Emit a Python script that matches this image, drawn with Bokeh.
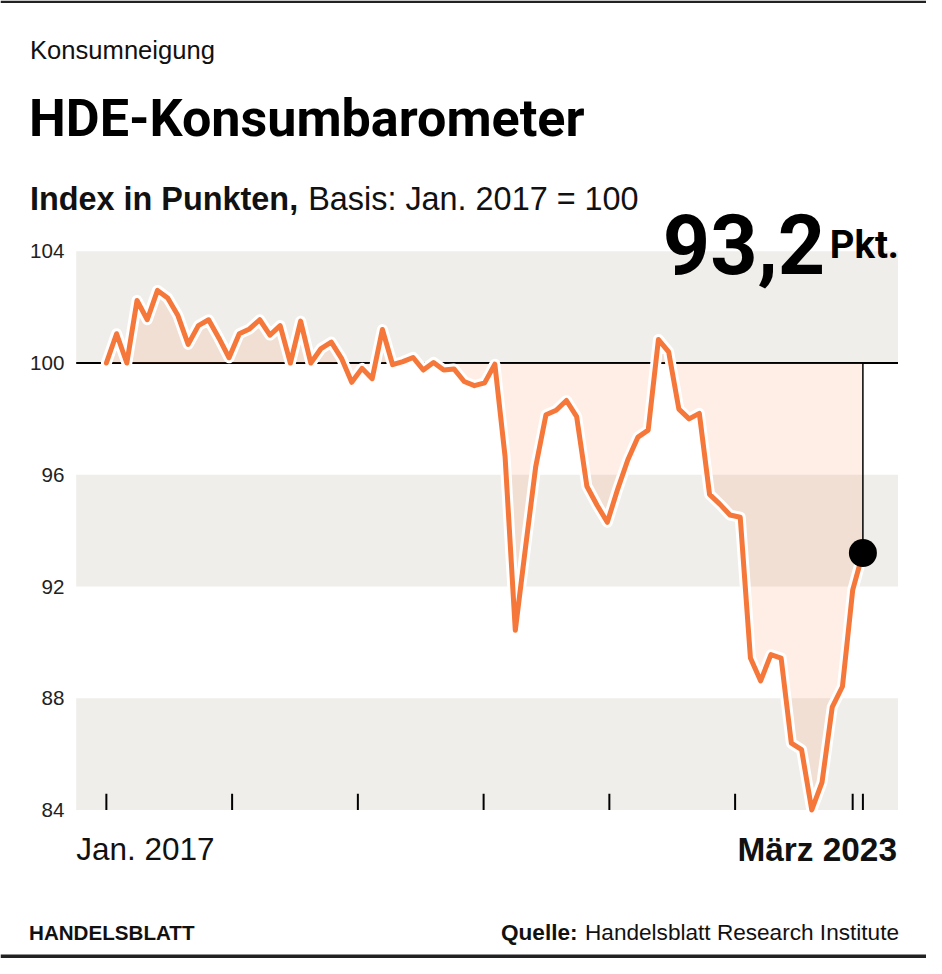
import numpy as np
from bokeh.plotting import figure
from bokeh.models import Range1d, BoxAnnotation, Label
from bokeh.core.properties import value
from bokeh.embed import file_html
from bokeh.resources import INLINE

# ---------------- data ----------------
# HDE-Konsumbarometer, monthly, Jan. 2017 ... März 2023 (index, Jan. 2017 = 100)
values = [
    100.0, 101.05, 100.0, 102.24, 101.55, 102.6, 102.33, 101.7, 100.67, 101.34,
    101.55, 100.9, 100.19, 101.05, 101.22, 101.55, 101.0, 101.34, 100.0, 101.5,
    100.0, 100.52, 100.75, 100.17, 99.31, 99.81, 99.44, 101.2, 99.94, 100.05,
    100.2, 99.75, 100.02, 99.75, 99.79, 99.34, 99.19, 99.29, 99.96, 96.65,
    90.43, 93.4, 96.3, 98.15, 98.31, 98.66, 98.08, 95.59, 94.91, 94.3,
    95.47, 96.53, 97.35, 97.6, 100.84, 100.4, 98.35, 98.0, 98.2, 95.3,
    94.95, 94.56, 94.48, 89.44, 88.62, 89.56, 89.44, 86.39, 86.16, 84.0,
    84.99, 87.68, 88.42, 91.87, 93.2,
]
months = list(range(len(values)))          # 0 = Jan. 2017
base_value = 100
y_ticks = [84, 88, 92, 96, 100, 104]
y_tick_labels = [str(t) for t in y_ticks]
x_tick_positions = [0, 12.3, 24.6, 36.9, 49.2, 61.5, 73, 74]
band_bottoms = [84, 92, 100]
band_height = 4
y_min, y_max = 84, 104
first_label = "Jan. 2017"
last_label = "März 2023"
latest_text = "93,2"
unit_text = "Pkt."

# ---------------- layout helpers (reference px -> data) ----------------
W, H = 926, 958              # canvas
RW, RH = 942, 974            # reference design size (scaled into the canvas)
FS = W / RW                  # font scale
PXM = 10.4                   # design px per month
X0 = 107.7                   # design px of first month
PXP = 28.4                   # design px per index point
FR_L, FR_R, FR_T, FR_B = 77, 913, 255, 823


def xd(px):
    return (px - X0) / PXM


def yd(py):
    return y_max - (py - FR_T) / PXP


def fs(s):
    return f"{s * FS:.1f}px"


ORANGE = "#f5773a"
BAND = "#f0eeea"
INK = "#111111"
SANS = "Liberation Sans"
HEAVY = "Roboto"

p = figure(
    width=W, height=H, output_backend="svg", toolbar_location=None,
    x_range=Range1d(xd(0), xd(RW)), y_range=Range1d(yd(RH), yd(0)),
    x_axis_location=None, y_axis_location=None, min_border=0,
)
p.outline_line_color = None
p.background_fill_color = "white"
p.border_fill_color = "white"
p.xgrid.visible = False
p.ygrid.visible = False

x_left, x_right = xd(FR_L), xd(FR_R)

# background bands
for b in band_bottoms:
    p.add_layout(BoxAnnotation(left=x_left, right=x_right, bottom=b, top=b + band_height,
                               fill_color=BAND, fill_alpha=1, line_color=None, level="underlay"))

# base line at 100
p.segment(x0=[x_left], y0=[base_value], x1=[x_right], y1=[base_value],
          line_color="black", line_width=2)

# area between series and base
p.varea(x=months, y1=values, y2=base_value, fill_color=ORANGE, fill_alpha=0.125)

# halo + line
p.line(months, values, line_color="white", line_width=11, line_join="round", line_cap="round")
p.line(months, values, line_color=ORANGE, line_width=5, line_join="round", line_cap="round")

# marker for the latest value
p.segment(x0=[months[-1]], y0=[base_value], x1=[months[-1]], y1=[values[-1]],
          line_color="black", line_width=1.5)
p.scatter(x=[months[-1]], y=[values[-1]], size=28, fill_color="black", line_color=None)

# x ticks (inside, from the bottom edge up)
tick_len = 16.5 / PXP
p.segment(x0=x_tick_positions, y0=[y_min] * len(x_tick_positions),
          x1=x_tick_positions, y1=[y_min + tick_len] * len(x_tick_positions),
          line_color="black", line_width=2)

# y tick labels
p.text(x=[xd(FR_L - 12)] * len(y_ticks), y=y_ticks, text=y_tick_labels,
       text_font=value(SANS), text_font_size=value(fs(21)), text_color="#222222",
       text_align="right", text_baseline="middle")


def lab(text, px, py, size, font=SANS, style="normal", align="left", color=INK):
    p.add_layout(Label(x=xd(px), y=yd(py), text=text, text_font=font,
                       text_font_size=fs(size), text_font_style=style, text_align=align,
                       text_baseline="alphabetic", text_color=color))


lab("Konsumneigung", 30, 50, 26)
lab("HDE-Konsumbarometer", 29, 120, 53, font=HEAVY, style="bold", color="black")
lab("Index in Punkten,", 30, 202, 33, style="bold")
lab("Basis: Jan. 2017 = 100", 313, 202, 33)
lab(latest_text, 839, 248, 84, font=HEAVY, style="bold", align="right", color="black")
lab(unit_text, 914, 248, 39, font=HEAVY, style="bold", align="right", color="black")
lab(first_label, 77, 863, 32)
lab(last_label, 912, 863, 34, style="bold", align="right")
lab("HANDELSBLATT", 29, 948, 21, style="bold")
lab("Handelsblatt Research Institute", 914, 948, 23, align="right")
lab("Quelle:", 587, 948, 23, style="bold", align="right")

# top and bottom rules
p.add_layout(BoxAnnotation(left=xd(0), right=xd(RW), top=yd(0), bottom=yd(2.5),
                           fill_color="#222222", fill_alpha=1, line_color=None))
p.add_layout(BoxAnnotation(left=xd(0), right=xd(RW), top=yd(970), bottom=yd(973.5),
                           fill_color="#222222", fill_alpha=1, line_color=None))

open("out.html", "w").write(file_html(p, INLINE))
